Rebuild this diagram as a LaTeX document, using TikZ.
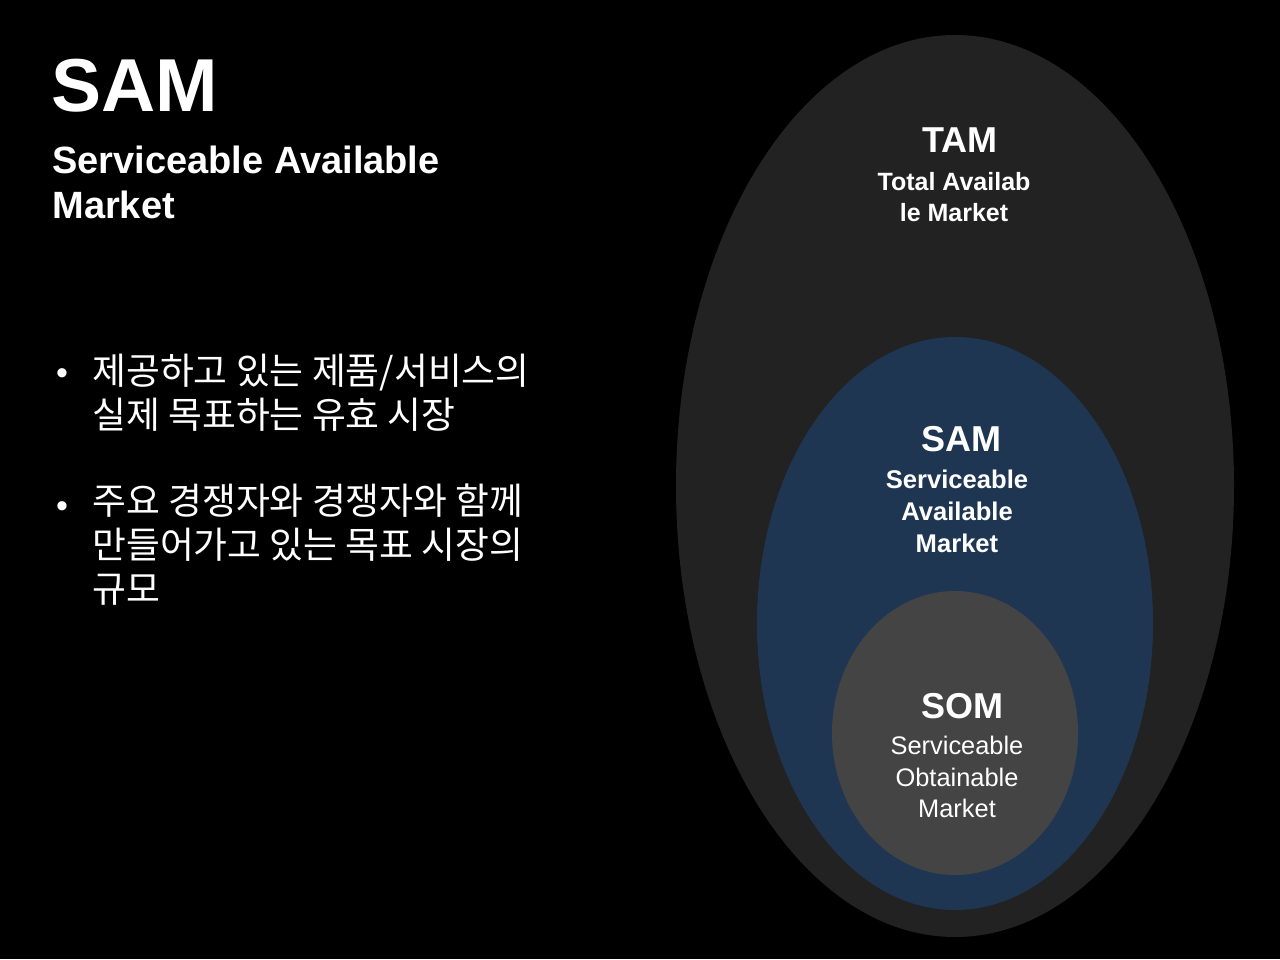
\documentclass[tikz,border=0pt]{standalone}
\usepackage{fontspec}
\setmainfont{Liberation Sans}
\newfontfamily\kofont{Noto Sans CJK KR}
\usetikzlibrary{calc}
\usetikzlibrary{shapes.geometric}
\usetikzlibrary{positioning}
\definecolor{tamgray}{HTML}{222222}
\definecolor{samblue}{HTML}{1F3652}
\definecolor{somgray}{HTML}{444444}

\begin{document}
\begin{tikzpicture}[x=0.5pt,y=-0.5pt,%
  market/.style={ellipse,
                 inner sep=0pt,
                 draw=none
  },
  title/.style={text=white, inner sep=0pt, anchor=base,
                font=\fontsize{18}{20}\selectfont\bfseries
  },
  subtitle/.style={text=white, inner sep=0pt, align=center,
                   font=\fontsize{12.8}{16}\selectfont\bfseries
  },
  bullet/.style={text=white, inner sep=0pt, anchor=base,
                 font=\fontsize{17}{21.5}\selectfont
  },
  point/.style={text=white, inner sep=0pt, anchor=base west, align=left,
                font=\kofont\fontsize{18.4}{22}\selectfont
  }
]
\fill [black] (0,0) rectangle (1280,959);

\node [market, fill=tamgray, minimum width=279pt, minimum height=451pt] (tam)
   at (955,486) {};
\node [market, fill=samblue, minimum width=198pt, minimum height=286.5pt] (sam)
   at (955,623.5) {};
\node [market, fill=somgray, minimum width=123pt, minimum height=142pt] (som)
   at (955,733) {};

\node [title] (tamtitle) at (960,152) {TAM};
\node [subtitle, below=10pt of tamtitle.base, xshift=-3pt,
       font=\fontsize{12.5}{15.5}\selectfont\bfseries] (tamtext) {
   Total Availab\\
   le Market
   };

\node [title] (samtitle) at (961,451) {SAM};
\node [subtitle, below=9.5pt of samtitle.base, xshift=-2pt] (samtext) {
   Serviceable\\
   Available\\
   Market
   };

\node [title] (somtitle) at (962,718) {SOM};
\node [subtitle, below=9pt of somtitle.base, xshift=-2.5pt,
       font=\fontsize{12.7}{15.75}\selectfont] (somtext) {
   Serviceable\\
   Obtainable\\
   Market
   };

\node [text=white, inner sep=0pt, anchor=base west,
       font=\fontsize{37.5}{40}\selectfont\bfseries] (head) at (51,111) {SAM};
\node [text=white, inner sep=0pt, anchor=north west, align=left,
       font=\fontsize{19}{22.5}\selectfont\bfseries]
   (headtext) at ($(head.base west) + (1,35)$) {
   Serviceable Available\\
   Market
   };

\node [bullet] (dot1) at (62,384) {•};
\node [point] (point1) at (92,428) {
   제공하고 있는 제품/서비스의\\
   실제 목표하는 유효 시장
   };

\node [bullet] (dot2) at (62,517) {•};
\node [point] (point2) at (92,602) {
   주요 경쟁자와 경쟁자와 함께\\
   만들어가고 있는 목표 시장의\\
   규모
   };
\end{tikzpicture}
\end{document}
